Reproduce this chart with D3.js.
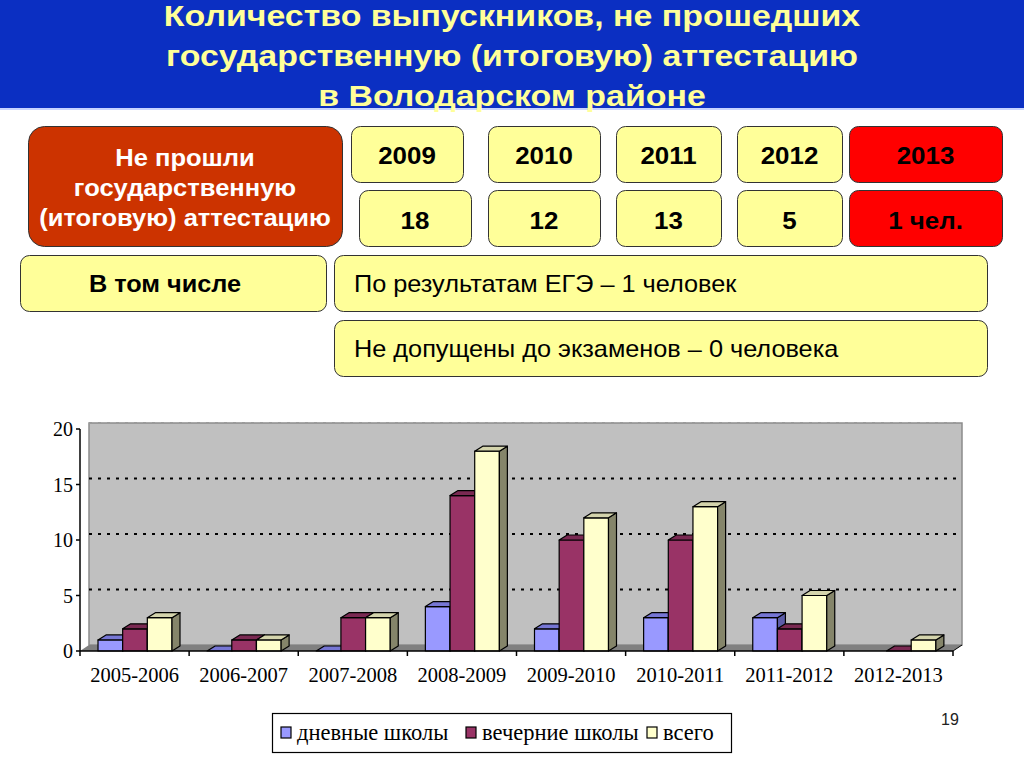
<!DOCTYPE html>
<html>
<head>
<meta charset="utf-8">
<script src="https://cdn.jsdelivr.net/npm/d3@7"></script>
<style>
  body { margin: 0; background: #fff; }
  svg { display: block; }
</style>
</head>
<body>
<div id="slide"></div>
<script>
// chart data
const categories = ["2005-2006", "2006-2007", "2007-2008", "2008-2009",
                    "2009-2010", "2010-2011", "2011-2012", "2012-2013"];
const seriesNames = ["дневные школы", "вечерние школы", "всего"];
const dayValues = [1, 0, 0, 4, 2, 3, 3, null];
const eveningValues = [2, 1, 3, 14, 10, 10, 2, 0];
const totalValues = [3, 1, 3, 18, 12, 13, 5, 1];
const yTicks = [0, 5, 10, 15, 20];

// header boxes data
const titleLines = ["Количество выпускников, не прошедших",
                    "государственную (итоговую) аттестацию",
                    "в Володарском районе"];
const years = ["2009", "2010", "2011", "2012", "2013"];
const yearCounts = ["18", "12", "13", "5", "1 чел."];
const notPassedLines = ["Не прошли", "государственную", "(итоговую) аттестацию"];
const detailLines = ["По результатам ЕГЭ – 1 человек",
                     "Не допущены до экзаменов – 0 человека"];

const W = 1024, H = 768;
const sans = "'Liberation Sans', Arial, sans-serif";
const serif = "'Liberation Serif', 'Times New Roman', serif";

const svg = d3.select("#slide").append("svg")
  .attr("width", W).attr("height", H);

// ---- title banner ----
svg.append("rect").attr("x", 0).attr("y", 0).attr("width", W).attr("height", 108)
  .attr("fill", "#0b2fc2");
svg.append("line").attr("x1", 0).attr("x2", W).attr("y1", 109).attr("y2", 109)
  .attr("stroke", "#c8d4ff").attr("stroke-width", 2);
svg.selectAll(".title").data(titleLines).enter().append("text")
  .attr("class", "title")
  .attr("transform", (d, i) => `translate(512,${26 + i * 40}) scale(1.13,1)`)
  .attr("text-anchor", "middle")
  .attr("font-family", sans).attr("font-weight", "bold").attr("font-size", 30)
  .attr("fill", "#ffff99")
  .text(d => d);

// ---- rounded boxes ----
function box(x, y, w, h, fill, r = 9) {
  svg.append("rect")
    .attr("x", x + 0.5).attr("y", y + 0.5).attr("width", w).attr("height", h)
    .attr("rx", r).attr("ry", r)
    .attr("fill", fill).attr("stroke", "#333").attr("stroke-width", 1);
}
function label(x, y, str, opts = {}) {
  svg.append("text")
    .attr("transform", `translate(${x},${y}) scale(${opts.sx || 1.1},1)`)
    .attr("text-anchor", opts.anchor || "middle")
    .attr("font-family", sans)
    .attr("font-weight", opts.bold === false ? "normal" : "bold")
    .attr("font-size", opts.size || 23)
    .attr("fill", opts.color || "#000")
    .text(str);
}

box(28, 126, 314, 120, "#cc3300", 16);
notPassedLines.forEach((s, i) => label(185, 166 + i * 30, s, { color: "#fff", sx: 1.11 }));

const yearX = [351, 488, 616, 737, 849];
const countX = [359, 488, 616, 737, 849];
const yearW = [112, 112, 105, 105, 153];
years.forEach((yr, i) => {
  const fill = i === years.length - 1 ? "#ff0000" : "#ffff99";
  box(yearX[i], 126, yearW[i], 56, fill);
  label(yearX[i] + yearW[i] / 2, 164, yr, { size: 24, sx: 1.08 });
  box(countX[i], 190, yearW[i], 56, fill);
  label(countX[i] + yearW[i] / 2, 229, yearCounts[i], { size: 24, sx: 1.08 });
});

box(20, 255, 306, 56, "#ffff99");
label(165, 292, "В том числе");
detailLines.forEach((s, i) => {
  box(334, 255 + i * 65, 653, 56, "#ffff99");
  label(354, 292 + i * 65, s, { bold: false, anchor: "start" });
});

// ---- 3D clustered column chart ----
const x0 = 80, x1 = 953, yBase = 651;
const depthX = 9, depthY = -6;   // back wall offset
const barDX = 8, barDY = -5;     // bar depth

const x = d3.scaleBand().domain(categories).range([x0, x1]);
const xs = d3.scaleBand().domain(seriesNames).range([18, 92]);
const y = d3.scaleLinear().domain([0, 20]).range([yBase, 429]);

const chart = svg.append("g");

// back wall
chart.append("rect")
  .attr("x", x0 + depthX).attr("y", y(20) + depthY)
  .attr("width", x1 - x0).attr("height", y(0) - y(20))
  .attr("fill", "#c0c0c0").attr("stroke", "#8c8c8c").attr("stroke-width", 1.5);

// gridlines on the back wall
chart.selectAll(".grid").data(yTicks.filter(v => v > 0)).enter().append("line")
  .attr("x1", x0 + depthX).attr("x2", x1 + depthX)
  .attr("y1", d => y(d) + depthY).attr("y2", d => y(d) + depthY)
  .attr("stroke", d => d === 20 ? "#9a9a9a" : "#000")
  .attr("stroke-width", 2)
  .attr("stroke-dasharray", "3,6");

// floor
chart.append("path")
  .attr("d", `M${x0},${yBase}L${x1},${yBase}L${x1 + depthX},${yBase + depthY}L${x0 + depthX},${yBase + depthY}Z`)
  .attr("fill", "#808080");
chart.append("line")
  .attr("x1", x1).attr("y1", yBase).attr("x2", x1 + depthX).attr("y2", yBase + depthY)
  .attr("stroke", "#000");

// bars
const series = [
  { name: seriesNames[0], values: dayValues, front: "#9999ff", top: "#7676d4", side: "#5c5ca8" },
  { name: seriesNames[1], values: eveningValues, front: "#993366", top: "#7a2952", side: "#5c1f3d" },
  { name: seriesNames[2], values: totalValues, front: "#ffffcc", top: "#d4d4ac", side: "#85856a" }
];

categories.forEach((cat, ci) => {
  series.forEach(s => {
    const v = s.values[ci];
    if (v === null) return;
    const bx = x(cat) + xs(s.name), bw = xs.bandwidth();
    const top = y(v), bot = y(0);
    const g = chart.append("g").attr("stroke", "#000").attr("stroke-width", 1.2)
      .attr("stroke-linejoin", "round");
    if (v > 0) {
      g.append("rect").attr("x", bx).attr("y", top).attr("width", bw).attr("height", bot - top)
        .attr("fill", s.front);
      g.append("path")
        .attr("d", `M${bx + bw},${top}L${bx + bw + barDX},${top + barDY}L${bx + bw + barDX},${bot + barDY}L${bx + bw},${bot}Z`)
        .attr("fill", s.side);
    }
    g.append("path")
      .attr("d", `M${bx},${top}L${bx + barDX},${top + barDY}L${bx + bw + barDX},${top + barDY}L${bx + bw},${top}Z`)
      .attr("fill", s.top);
  });
});

// y axis
const yAxis = chart.append("g");
yAxis.append("line").attr("x1", x0).attr("x2", x0).attr("y1", y(20)).attr("y2", yBase)
  .attr("stroke", "#000").attr("stroke-width", 1.5);
yAxis.selectAll(".yt").data(yTicks).enter().append("line")
  .attr("x1", x0 - 4).attr("x2", x0).attr("y1", d => y(d)).attr("y2", d => y(d))
  .attr("stroke", "#000").attr("stroke-width", 1.5);
yAxis.selectAll(".yl").data(yTicks).enter().append("text")
  .attr("x", x0 - 7).attr("y", d => y(d) + 7)
  .attr("text-anchor", "end")
  .attr("font-family", serif).attr("font-size", 20)
  .text(d => d);

// x axis
const xAxis = chart.append("g");
xAxis.append("line").attr("x1", x0).attr("x2", x1).attr("y1", yBase).attr("y2", yBase)
  .attr("stroke", "#000").attr("stroke-width", 1.5);
xAxis.selectAll(".xt").data(categories.map(c => x(c)).concat([x1])).enter().append("line")
  .attr("x1", d => d).attr("x2", d => d).attr("y1", yBase).attr("y2", yBase + 5)
  .attr("stroke", "#000").attr("stroke-width", 1.5);
xAxis.selectAll(".xl").data(categories).enter().append("text")
  .attr("x", d => x(d) + x.bandwidth() / 2).attr("y", 682)
  .attr("text-anchor", "middle")
  .attr("font-family", serif).attr("font-size", 20.5)
  .text(d => d);

// legend
const legend = svg.append("g");
legend.append("rect").attr("x", 272.5).attr("y", 713.5).attr("width", 459).attr("height", 39)
  .attr("fill", "#fff").attr("stroke", "#000").attr("stroke-width", 1.2);
const legendX = [281, 466, 647];
series.forEach((s, i) => {
  legend.append("rect").attr("x", legendX[i]).attr("y", 727).attr("width", 10).attr("height", 11)
    .attr("fill", s.front).attr("stroke", "#000").attr("stroke-width", 1.2);
  legend.append("text").attr("x", legendX[i] + 16).attr("y", 740)
    .attr("font-family", serif).attr("font-size", 22.5)
    .text(s.name);
});

// slide number
svg.append("text").attr("x", 950).attr("y", 725).attr("text-anchor", "middle")
  .attr("font-family", sans).attr("font-size", 16).attr("fill", "#222")
  .text("19");
</script>
</body>
</html>
